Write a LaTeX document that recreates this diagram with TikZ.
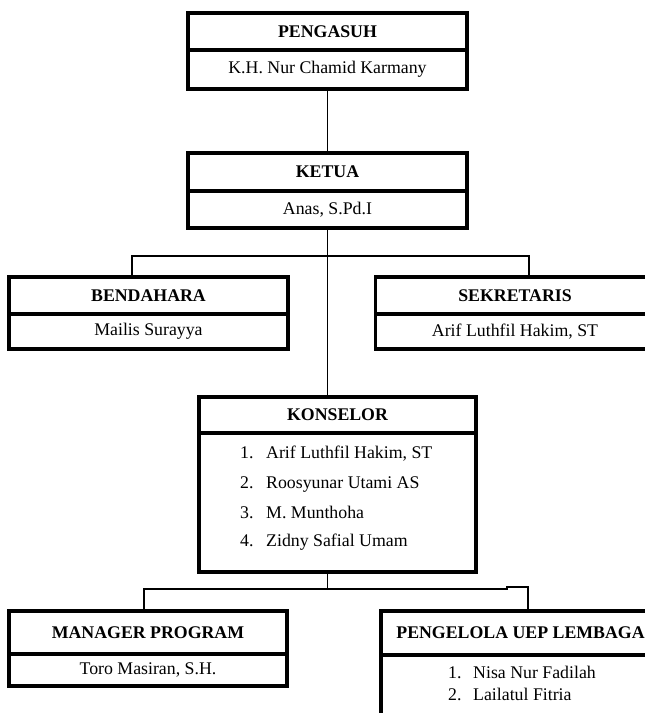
\documentclass[tikz,border=0pt]{standalone}
\usepackage{fontspec}
\setmainfont{Liberation Serif}
\usetikzlibrary{calc}
\def\orgfont{\fontsize{17.8}{20}\selectfont}
\tikzset{
  headbox/.style={draw, line width=3.5pt, minimum width=279pt, inner sep=0pt, outer sep=0pt, font=\orgfont\bfseries},
  namebox/.style={draw, line width=3.5pt, minimum width=279pt, inner sep=0pt, outer sep=0pt, font=\orgfont},
  listitem/.style={anchor=base west, inner sep=0pt, font=\orgfont},
  link/.style={line width=1.1pt}
}

\begin{document}
\begin{tikzpicture}[x=1pt, y=-1pt]
			%%%%% START %%%%%
			\useasboundingbox (0, 0) rectangle (645, 713);
			\clip (0, 0) rectangle (645, 713);
			
			\node[headbox, minimum height=37] (pengasuh) at (327.5, 31.5) {PENGASUH};
			\node[namebox, minimum height=39] (pengasuhbody) at (327.5, 69.5) {K.H. Nur Chamid Karmany};
			
			\node[headbox, minimum height=38] (ketua) at (327.5, 172) {KETUA};
			\node[namebox, minimum height=37] (ketuabody) at (327.5, 209.5) {Anas, S.Pd.I};
			
			\node[headbox, minimum height=37] (bendahara) at (148.5, 295.5) {BENDAHARA};
			\node[namebox, minimum height=35] (bendaharabody) at (148.5, 331.5) {Mailis Surayya};
			
			\node[headbox, minimum height=37] (sekretaris) at (515, 295.5) {SEKRETARIS};
			\node[namebox, minimum height=35] (sekretarisbody) at (515, 331.5) {Arif Luthfil Hakim, ST};
			
			\node[headbox, minimum width=277, minimum height=36] (konselor) at (337.5, 415) {KONSELOR};
			\node[namebox, minimum width=277, minimum height=139] (konselorbody) at (337.5, 502.5) {};
			\foreach \i/\who/\y in {1/{Arif Luthfil Hakim, ST}/458, 2/Roosyunar Utami AS/488, 3/M. Munthoha/518, 4/Zidny Safial Umam/546}{
				\node[listitem] (kno\i) at (240, \y) {\i.};
				\node[listitem] (kname\i) at (266, \y) {\who};
			}
			
			\node[headbox, minimum width=278, minimum height=43] (manager) at (148, 632.5) {MANAGER PROGRAM};
			\node[namebox, minimum width=278, minimum height=32] (managerbody) at (148, 670) {Toro Masiran, S.H.};
			
			\node[headbox, minimum width=279, minimum height=44] (pengelola) at (520.5, 633) {PENGELOLA UEP LEMBAGA};
			\node[namebox, minimum width=279, minimum height=85] (pengelolabody) at (520.5, 697.5) {};
			\node[listitem] (pno1) at (448, 678) {1.};
			\node[listitem] (pname1) at (473, 678) {Nisa Nur Fadilah};
			\node[listitem] (pno2) at (448, 700) {2.};
			\node[listitem] (pname2) at (473, 700) {Lailatul Fitria};
			
			% connectors
			\coordinate (bendtap) at (132, 256);
			\coordinate (sektap) at (529, 256);
			\coordinate (mantap) at (144, 589);
			\coordinate (peltap) at (528, 587);
			
			\draw[link] (pengasuhbody.south) -- (ketua.north);
			\draw[link] (ketuabody.south) -- (ketuabody.south |- konselor.north);
			\draw[link] (bendtap |- bendahara.north) -- (bendtap) -- (sektap) -- (sektap |- sekretaris.north);
			\draw[link] (ketuabody.south |- konselorbody.south) -- (ketuabody.south |- mantap);
			\draw[link] (mantap |- manager.north) -- (mantap) -- (507, 589) -- (507, 587) -- (peltap) -- (peltap |- pengelola.north);
			
			%%%%% END %%%%%
\end{tikzpicture}
\end{document}
